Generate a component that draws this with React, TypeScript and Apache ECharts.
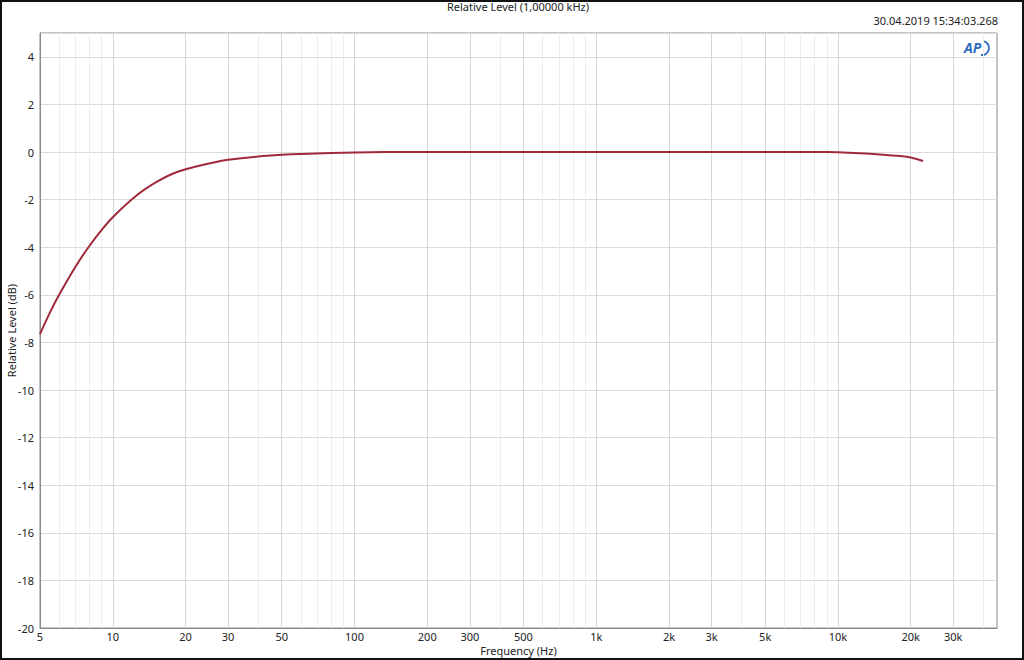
import React, { useEffect, useRef } from "react";
import * as echarts from "echarts";

const titleText = "Relative Level (1,00000 kHz)";
const timestampText = "30.04.2019 15:34:03.268";
const xAxisName = "Frequency (Hz)";
const yAxisName = "Relative Level (dB)";

const freqHz = [5, 5.5, 6, 7, 8, 9, 10, 12.5, 15, 18, 23, 30, 40, 50, 60, 80, 100, 135, 200, 500, 1000, 2000, 5000, 9000, 10000, 12300, 14900, 18100, 20200, 22500];
const levelDb = [-7.65, -6.74, -6.0, -4.83, -3.95, -3.27, -2.74, -1.84, -1.29, -0.88, -0.57, -0.33, -0.19, -0.12, -0.08, -0.04, -0.02, 0.0, 0.0, 0.0, 0.0, 0.0, 0.0, 0.0, -0.01, -0.05, -0.1, -0.17, -0.24, -0.38];

const xLabelValues = [5, 10, 20, 30, 50, 100, 200, 300, 500, 1000, 2000, 3000, 5000, 10000, 20000, 30000];
const majorGridX = [10, 20, 30, 50, 100, 200, 300, 500, 1000, 2000, 3000, 5000, 10000, 20000, 30000];
const minorGridX = [6, 7, 8, 9, 40, 60, 70, 80, 90, 400, 600, 700, 800, 900, 4000, 6000, 7000, 8000, 9000, 40000];

const X_MIN = 5;
const X_MAX = 45500;
const Y_MIN = -20;
const Y_MAX = 5;
const Y_STEP = 2;

export default function App() {
  const ref = useRef<HTMLDivElement>(null);
  useEffect(() => {
    if (!ref.current) return;
    const chart = echarts.init(ref.current, null, { renderer: "svg" });
    const font = "'Noto Sans', sans-serif";
    chart.setOption({
      animation: false,
      backgroundColor: "#ffffff",
      textStyle: { fontFamily: font },
      title: [
        {
          text: titleText,
          left: 518,
          top: 1,
          padding: 0,
          textAlign: "center",
          textStyle: { fontSize: 11, fontWeight: "normal", color: "#222", fontFamily: font },
        },
        {
          text: timestampText,
          right: 26,
          top: 15,
          padding: 0,
          textStyle: { fontSize: 11, fontWeight: "normal", color: "#222", fontFamily: font },
        },
      ],
      grid: {
        left: 40,
        top: 33,
        right: 27,
        bottom: 32,
        outerBoundsMode: "none",
        containLabel: false,
        show: true,
        borderColor: "#8a8a8a",
        borderWidth: 1,
        backgroundColor: "#ffffff",
      },
      xAxis: {
        type: "log",
        logBase: 10,
        min: X_MIN,
        max: X_MAX,
        name: xAxisName,
        nameLocation: "middle",
        nameGap: 17,
        nameMoveOverlap: false,
        nameTextStyle: { fontSize: 11, color: "#222", fontFamily: font },
        axisLine: { show: true, onZero: false, lineStyle: { color: "#8a8a8a" } },
        axisTick: { show: false },
        splitLine: { show: false },
        minorSplitLine: { show: false },
        axisLabel: {
          customValues: xLabelValues,
          color: "#222",
          fontSize: 11,
          margin: 3,
          fontFamily: font,
          formatter: (v: number) => (v >= 1000 ? `${Math.round(v / 1000)}k` : `${Math.round(v)}`),
        },
      },
      yAxis: {
        type: "value",
        min: Y_MIN,
        max: Y_MAX,
        interval: Y_STEP,
        name: yAxisName,
        nameLocation: "middle",
        nameGap: 23,
        nameMoveOverlap: false,
        nameTextStyle: { fontSize: 11, color: "#222", fontFamily: font },
        axisLine: { show: true, onZero: false, lineStyle: { color: "#8a8a8a" } },
        axisTick: { show: false },
        splitLine: { show: true, lineStyle: { color: "#dcdcdc", width: 1 } },
        axisLabel: {
          color: "#222",
          fontSize: 11,
          margin: 6,
          fontFamily: font,
          showMaxLabel: false,
          formatter: (v: number) => (v > 4 ? "" : `${v}`),
        },
      },
      series: [
        {
          name: "minorGrid",
          type: "line",
          data: [],
          z: 1,
          silent: true,
          markLine: {
            silent: true,
            symbol: "none",
            label: { show: false },
            lineStyle: { color: "#ececec", type: "solid", width: 1 },
            data: minorGridX.map((v) => ({ xAxis: v })),
          },
        },
        {
          name: "majorGrid",
          type: "line",
          data: [],
          z: 1,
          silent: true,
          markLine: {
            silent: true,
            symbol: "none",
            label: { show: false },
            lineStyle: { color: "#d6d6d6", type: "solid", width: 1 },
            data: majorGridX.map((v) => ({ xAxis: v })),
          },
        },
        {
          name: "Relative Level",
          type: "line",
          z: 5,
          showSymbol: false,
          smooth: 0.2,
          data: freqHz.map((f, i) => [f, levelDb[i]]),
          lineStyle: { color: "#a02a3c", width: 2 },
          itemStyle: { color: "#a02a3c" },
        },
      ],
      graphic: [
        {
          type: "rect",
          shape: { x: 1, y: 1, width: 1022, height: 658 },
          style: { fill: "none", stroke: "#111", lineWidth: 2 },
          silent: true,
        },
        {
          type: "text",
          x: 964,
          y: 40,
          style: {
            text: "AP",
            fill: "#2d6cc0",
            font: "italic bold 14px 'Noto Sans', sans-serif",
          },
        },
        {
          type: "arc",
          shape: { cx: 982, cy: 48, r: 7, startAngle: -Math.PI * 0.45, endAngle: Math.PI * 0.55 },
          style: { stroke: "#2d6cc0", lineWidth: 1.8, fill: "none" },
        },
      ],
    });
    return () => chart.dispose();
  }, []);
  return (
    <div
      ref={ref}
      style={{ position: "fixed", left: 0, top: 0, width: 1024, height: 660 }}
    />
  );
}
